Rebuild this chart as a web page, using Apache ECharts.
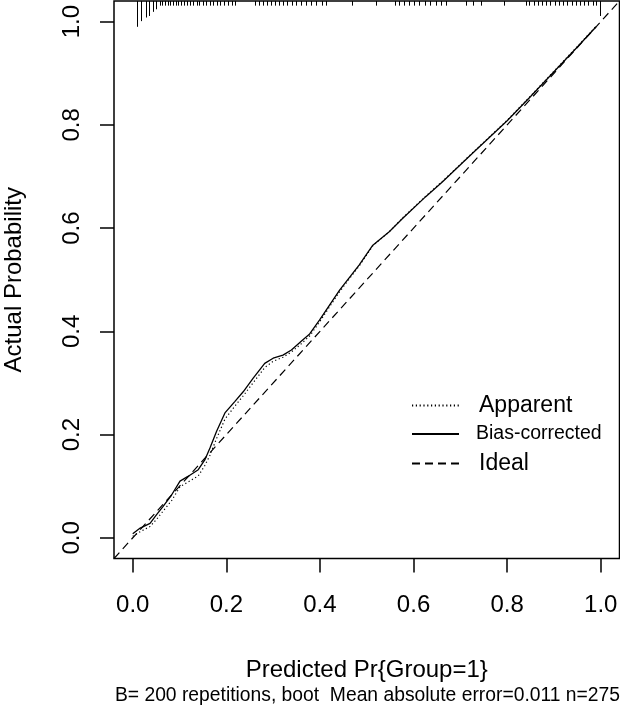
<!DOCTYPE html>
<html><head><meta charset="utf-8">
<script src="https://cdn.jsdelivr.net/npm/echarts@6/dist/echarts.min.js"></script>
<style>html,body{margin:0;padding:0;background:#fff}#c{width:620px;height:707px}</style>
</head><body><div id="c"></div>
<script>
// ---- data ----
const tickValues = [0, 0.2, 0.4, 0.6, 0.8, 1.0];
const predicted = [0.000, 0.016, 0.037, 0.051, 0.065, 0.083, 0.101, 0.118, 0.140, 0.154, 0.165, 0.179, 0.197, 0.218, 0.236, 0.257, 0.282, 0.300, 0.321, 0.339, 0.360, 0.378, 0.399, 0.442, 0.484, 0.513, 0.548, 0.577, 0.626, 0.662, 0.704, 0.726, 0.800, 0.850, 0.900, 0.950, 0.990];
const biasCorrected = [0.008, 0.019, 0.028, 0.045, 0.061, 0.083, 0.110, 0.119, 0.132, 0.151, 0.174, 0.206, 0.242, 0.264, 0.283, 0.309, 0.338, 0.348, 0.354, 0.364, 0.381, 0.395, 0.422, 0.480, 0.529, 0.567, 0.593, 0.619, 0.661, 0.690, 0.726, 0.745, 0.808, 0.855, 0.903, 0.951, 0.990];
const apparent = [0.003, 0.012, 0.022, 0.036, 0.052, 0.072, 0.099, 0.108, 0.120, 0.140, 0.160, 0.192, 0.230, 0.255, 0.275, 0.300, 0.330, 0.342, 0.350, 0.360, 0.376, 0.391, 0.418, 0.477, 0.527, 0.566, 0.593, 0.620, 0.662, 0.691, 0.727, 0.746, 0.809, 0.856, 0.904, 0.952, 0.991];
const idealLine = [-0.04, 1.04];
const rugX = [0.010, 0.019, 0.028, 0.035, 0.043, 0.051,
  0.058, 0.064, 0.069, 0.075, 0.080, 0.086, 0.092, 0.098, 0.104, 0.110, 0.117, 0.123, 0.130, 0.137, 0.143, 0.150, 0.158, 0.165, 0.172, 0.180, 0.188, 0.196, 0.204, 0.212, 0.220,
  0.262, 0.270, 0.278, 0.287, 0.295, 0.304, 0.313, 0.322, 0.331, 0.340, 0.350, 0.360, 0.370, 0.381, 0.393, 0.405, 0.414,
  0.470, 0.520,
  0.561, 0.570, 0.580, 0.590, 0.601, 0.612, 0.624, 0.636, 0.648, 0.660, 0.670,
  0.712, 0.728, 0.745, 0.793,
  0.840, 0.848, 0.857, 0.866, 0.875, 0.884, 0.893, 0.902, 0.911, 0.920, 0.929, 0.938, 0.947, 0.956, 0.965, 0.974, 0.983, 0.990, 0.999];
const rugLen = [0.050, 0.039, 0.032, 0.029, 0.021, 0.016,
  0.009, 0.009, 0.009, 0.009, 0.009, 0.009, 0.009, 0.009, 0.009, 0.009, 0.009, 0.009, 0.009, 0.009, 0.009, 0.009, 0.009, 0.009, 0.009, 0.009, 0.009, 0.009, 0.009, 0.009, 0.009,
  0.009, 0.009, 0.009, 0.009, 0.009, 0.009, 0.009, 0.009, 0.009, 0.009, 0.009, 0.009, 0.009, 0.009, 0.009, 0.009, 0.009,
  0.009, 0.009,
  0.009, 0.009, 0.009, 0.009, 0.009, 0.009, 0.009, 0.009, 0.009, 0.009, 0.009,
  0.009, 0.009, 0.009, 0.009,
  0.009, 0.009, 0.009, 0.009, 0.009, 0.009, 0.009, 0.009, 0.009, 0.009, 0.009, 0.009, 0.009, 0.009, 0.009, 0.009, 0.009, 0.009, 0.029];
const xTitle = 'Predicted Pr{Group=1}';
const yTitle = 'Actual Probability';
const subText = 'B= 200 repetitions, boot  Mean absolute error=0.011 n=275';

// ---- chart ----
const FONT = '"Liberation Sans", Arial, sans-serif';
const AX_MIN = -0.04, AX_MAX = 1.04;
const chart = echarts.init(document.getElementById('c'), null, {renderer: 'canvas'});

const axisCommon = {
  type: 'value', min: AX_MIN, max: AX_MAX,
  splitLine: {show: false},
  axisLine: {show: false, onZero: false},
  axisTick: {show: true, inside: false, length: 14, customValues: tickValues, lineStyle: {color: '#000', width: 1.5}},
  nameLocation: 'middle',
  nameTextStyle: {fontFamily: FONT, fontSize: 24, color: '#000'}
};

const fmt = v => v.toFixed(1);
const hideSym = {opacity: 0};

chart.setOption({
  animation: false,
  backgroundColor: '#fff',
  grid: {left: 114, right: 0.5, top: 1, bottom: 148.5, show: true, borderColor: '#000', borderWidth: 1.5,
         backgroundColor: 'transparent', outerBoundsMode: 'none', containLabel: false},
  title: {text: subText, right: 0, top: 686, padding: 0, textStyle: {fontFamily: FONT, fontSize: 19.3, fontWeight: 'normal', color: '#000'}},
  xAxis: Object.assign({}, axisCommon, {
    name: xTitle, nameGap: 100,
    axisLabel: {customValues: tickValues, formatter: fmt, margin: 35, fontFamily: FONT, fontSize: 24, color: '#000'}
  }),
  yAxis: Object.assign({}, axisCommon, {
    name: yTitle, nameGap: 88,
    axisLabel: {customValues: tickValues, formatter: fmt, rotate: 90, margin: 30, fontFamily: FONT, fontSize: 24, color: '#000'}
  }),
  legend: [
    {data: [{name: 'Apparent', itemStyle: hideSym}], left: 406, top: 389, itemWidth: 47, itemHeight: 14, selectedMode: false,
     textStyle: {fontFamily: FONT, fontSize: 23, color: '#000', padding: [0, 0, 0, 15]}},
    {data: [{name: 'Bias-corrected', itemStyle: hideSym}], left: 406, top: 419, itemWidth: 47, itemHeight: 14, selectedMode: false,
     textStyle: {fontFamily: FONT, fontSize: 19.5, color: '#000', padding: [0, 0, 0, 12]}},
    {data: [{name: 'Ideal', itemStyle: hideSym}], left: 406, top: 447, itemWidth: 47, itemHeight: 14, selectedMode: false,
     textStyle: {fontFamily: FONT, fontSize: 23, color: '#000', padding: [0, 0, 0, 15]}}
  ],
  series: [
    {name: 'Apparent', type: 'line', symbol: 'none', silent: true,
     data: predicted.map((x, i) => [x, apparent[i]]),
     lineStyle: {color: '#000', width: 1.2, type: [1.2, 2.6]}, itemStyle: {color: '#000'}},
    {name: 'Bias-corrected', type: 'line', symbol: 'none', silent: true,
     data: predicted.map((x, i) => [x, biasCorrected[i]]),
     lineStyle: {color: '#000', width: 1.3, type: 'solid'}, itemStyle: {color: '#000'}},
    {name: 'Ideal', type: 'line', symbol: 'none', silent: true,
     data: idealLine.map(v => [v, v]),
     lineStyle: {color: '#000', width: 1.2, type: [8, 5]}, itemStyle: {color: '#000'}},
    {name: 'rug', type: 'lines', coordinateSystem: 'cartesian2d', silent: true,
     data: rugX.map((x, i) => ({coords: [[x, AX_MAX], [x, AX_MAX - rugLen[i]]]})),
     lineStyle: {color: '#000', width: 1, opacity: 1}}
  ]
});
</script>
</body></html>
